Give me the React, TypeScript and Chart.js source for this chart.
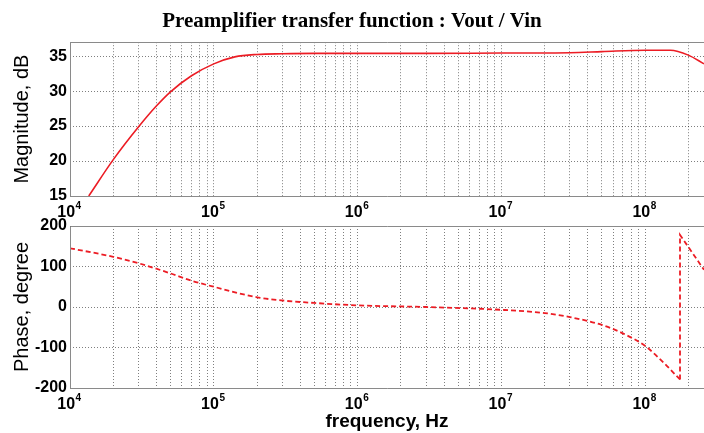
import React, { useEffect, useRef } from 'react';
import { Chart, registerables } from 'chart.js';

Chart.register(...registerables);

// ---- data ----
const chartTitle = 'Preamplifier transfer function : Vout / Vin';
const magTitle = 'Magnitude, dB';
const phaseTitle = 'Phase, degree';
const freqTitle = 'frequency, Hz';

const magFreq = [1.35e4, 2e4, 3e4, 4e4, 5e4, 7e4, 1e5, 1.4e5, 2e5, 3e5, 5e5, 1e6, 3e6, 1e7, 3e7, 5e7, 1e8, 1.5e8, 2e8, 2.57e8];
const magDb = [15, 20.2, 24.9, 27.9, 29.9, 32.2, 33.9, 34.9, 35.25, 35.35, 35.4, 35.4, 35.4, 35.45, 35.5, 35.65, 35.85, 35.85, 35.15, 33.9];

const phFreq = [1e4, 2e4, 3e4, 5e4, 7e4, 1e5, 2e5, 3e5, 5e5, 1e6, 3e6, 1e7, 2e7, 3e7, 5e7, 7e7, 1e8, 1.35e8, 1.75e8];
const phDeg = [145, 124, 108, 83, 65, 50, 24, 16, 10, 4, 0, -7, -15, -25, -44, -65, -96, -138, -179];
const wrapFreq = [1.75e8, 1.75e8, 2.57e8];
const wrapDeg = [-179, 178, 92];

const magTicks = [15, 20, 25, 30, 35];
const phTicks = [-200, -100, 0, 100, 200];
const decades = [4, 5, 6, 7, 8];
const mantissas = [1, 2, 3, 4, 5, 6, 7, 8, 9];
const X_MIN = 1e4;
const X_MAX = 2.57e8;

const RED = 'rgb(236,28,36)';
const GRID = 'rgba(0,0,0,0.5)';
const FRAME = '#8a8a8a';
const SANS = '"Liberation Sans", Arial, sans-serif';
const SERIF = '"Liberation Serif", "Times New Roman", serif';

const gridValues: number[] = [];
decades.forEach((e) => mantissas.forEach((m) => {
  const v = m * Math.pow(10, e);
  if (v >= X_MIN && v <= X_MAX) gridValues.push(v);
}));

function pts(xs: number[], ys: number[]) {
  return xs.map((x, i) => ({ x, y: ys[i] }));
}

function makeDecoration(withXTitle: boolean) {
  return {
    id: 'decoration',
    afterDraw(chart: any) {
      const { ctx, chartArea: a } = chart;
      const W = chart.width;
      ctx.save();
      ctx.strokeStyle = FRAME;
      ctx.lineWidth = 1;
      ctx.setLineDash([]);
      ctx.beginPath();
      ctx.moveTo(W, Math.round(a.top) + 0.5);
      ctx.lineTo(Math.round(a.left) + 0.5, Math.round(a.top) + 0.5);
      ctx.lineTo(Math.round(a.left) + 0.5, Math.round(a.bottom) + 0.5);
      ctx.lineTo(W, Math.round(a.bottom) + 0.5);
      ctx.stroke();

      const xs = chart.scales.x;
      ctx.fillStyle = '#000';
      ctx.textBaseline = 'alphabetic';
      ctx.textAlign = 'left';
      decades.forEach((e) => {
        const px = xs.getPixelForValue(Math.pow(10, e));
        ctx.font = 'bold 16px ' + SANS;
        const w1 = ctx.measureText('10').width;
        ctx.font = 'bold 10px ' + SANS;
        const w2 = ctx.measureText(String(e)).width;
        const x0 = px - (w1 + w2) / 2 - 1;
        ctx.font = 'bold 16px ' + SANS;
        ctx.fillText('10', x0, a.bottom + 21);
        ctx.font = 'bold 10px ' + SANS;
        ctx.fillText(String(e), x0 + w1 + 0.5, a.bottom + 13);
      });

      if (withXTitle) {
        ctx.font = 'bold 19px ' + SANS;
        ctx.textAlign = 'center';
        ctx.textBaseline = 'middle';
        ctx.fillText(freqTitle, (a.left + a.right) / 2, a.bottom + 34);
      }
      ctx.restore();
    },
  };
}

function xScale(height: number) {
  return {
    type: 'logarithmic' as const,
    min: X_MIN,
    max: X_MAX,
    afterBuildTicks: (scale: any) => {
      scale.ticks = gridValues.map((v) => ({ value: v, major: false }));
    },
    afterFit: (scale: any) => {
      scale.height = height;
    },
    ticks: { display: false },
    grid: { color: GRID, lineWidth: 1, drawTicks: false },
    border: { display: false, dash: [1, 2] },
  };
}

function yScale(min: number, max: number, step: number, values: number[], title: string) {
  return {
    type: 'linear' as const,
    min,
    max,
    afterBuildTicks: (scale: any) => {
      scale.ticks = values.map((v) => ({ value: v }));
    },
    afterFit: (scale: any) => {
      scale.width = 70;
    },
    ticks: {
      stepSize: step,
      includeBounds: false,
      color: '#000',
      padding: 3,
      font: { family: SANS, size: 16, weight: 'bold' as const },
    },
    grid: { color: GRID, lineWidth: 1, drawTicks: false },
    border: { display: false, dash: [1, 2] },
    title: {
      display: true,
      text: title,
      color: '#000',
      font: { family: SANS, size: 20, weight: 'normal' as const },
      padding: { top: 10, bottom: 0 },
    },
  };
}

export default function App() {
  const topRef = useRef<HTMLCanvasElement>(null);
  const botRef = useRef<HTMLCanvasElement>(null);

  useEffect(() => {
    const top = new Chart(topRef.current as HTMLCanvasElement, {
      type: 'line',
      data: {
        datasets: [
          {
            data: pts(magFreq, magDb),
            borderColor: RED,
            borderWidth: 1.6,
            pointRadius: 0,
            cubicInterpolationMode: 'monotone',
            fill: false,
          },
        ],
      },
      options: {
        responsive: false,
        animation: false,
        devicePixelRatio: 1,
        parsing: false as any,
        layout: { padding: 0 },
        plugins: {
          legend: { display: false },
          tooltip: { enabled: false },
          title: {
            display: true,
            text: chartTitle,
            color: '#000',
            font: { family: SERIF, size: 21, weight: 'bold' },
            padding: { top: 9, bottom: 8 },
          },
        },
        scales: {
          x: xScale(29),
          y: yScale(15, 37, 5, magTicks, magTitle),
        },
      } as any,
      plugins: [makeDecoration(false)],
    });

    const bot = new Chart(botRef.current as HTMLCanvasElement, {
      type: 'line',
      data: {
        datasets: [
          {
            data: pts(phFreq, phDeg),
            borderColor: RED,
            borderWidth: 1.8,
            borderDash: [5, 3],
            pointRadius: 0,
            cubicInterpolationMode: 'monotone',
            fill: false,
          },
          {
            data: pts(wrapFreq, wrapDeg),
            borderColor: RED,
            borderWidth: 1.8,
            borderDash: [5, 3],
            pointRadius: 0,
            tension: 0,
            fill: false,
          },
        ],
      },
      options: {
        responsive: false,
        animation: false,
        devicePixelRatio: 1,
        parsing: false as any,
        layout: { padding: { top: 26, left: 0, right: 0, bottom: 0 } },
        plugins: {
          legend: { display: false },
          tooltip: { enabled: false },
          title: { display: false },
        },
        scales: {
          x: xScale(45),
          y: yScale(-200, 200, 100, phTicks, phaseTitle),
        },
      } as any,
      plugins: [makeDecoration(true)],
    });

    return () => {
      top.destroy();
      bot.destroy();
    };
  }, []);

  return (
    <div style={{ position: 'absolute', left: 0, top: 0, width: 704, height: 433, background: '#fff', overflow: 'hidden' }}>
      <canvas ref={topRef} width={704} height={225} style={{ position: 'absolute', left: 0, top: 0, width: 704, height: 225 }} />
      <canvas ref={botRef} width={704} height={233} style={{ position: 'absolute', left: 0, top: 200, width: 704, height: 233 }} />
    </div>
  );
}
